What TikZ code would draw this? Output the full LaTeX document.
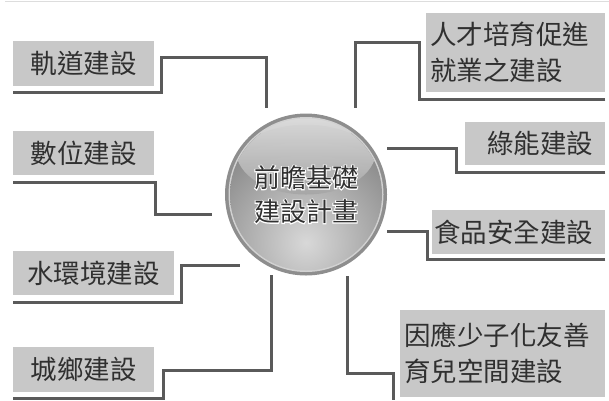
\documentclass[tikz,border=0pt]{standalone}
\usepackage{fontspec}
\setmainfont{Noto Sans CJK TC}
\usetikzlibrary{calc}

\definecolor{boxgray}{HTML}{C8C8C8}
\definecolor{linegray}{HTML}{5A5A5A}
\definecolor{inkgray}{HTML}{303030}
\definecolor{rimgray}{HTML}{8E8E8E}
\definecolor{ringlight}{HTML}{D2D2D2}
\definecolor{ballout}{HTML}{848484}
\definecolor{ballin}{HTML}{D8D8D8}
\definecolor{glosstop}{HTML}{E4E4E4}
\definecolor{glossbot}{HTML}{A6A6A6}
\definecolor{frameline}{HTML}{DDDDDD}

% dark lettering on a white emboldened underlay
\newcommand\glowtext[1]{%
  \makebox[0pt][l]{\textcolor{white}{\addfontfeatures{FakeBold=7}#1}}#1}

\begin{document}
\begin{tikzpicture}[x=1pt,y=-1pt,
  boxbase/.style={fill=boxgray, anchor=north west, inner sep=0pt, text=inkgray,
    font=\fontsize{26.5}{36}\selectfont},
  lbox/.style={boxbase, align=center},
  tbox/.style={boxbase, align=left, inner xsep=4pt},
  conn/.style={draw=linegray, line width=3pt}]
\useasboundingbox (0,0) rectangle (609,400);

% thin frame line along the top
\draw[frameline, line width=1pt] (5,1) -- (609,1);

% central glossy ball
\coordinate (hubc) at (306,194.5);
\fill[rimgray] (hubc) circle (81pt);
\fill[ringlight] (hubc) circle (77.5pt);
\begin{scope}
  \clip (hubc) circle (76pt);
  \shade[inner color=ballin, outer color=ballout] ($(hubc)+(0,48)$) circle (118pt);
  \shade[top color=glosstop, bottom color=glossbot, opacity=0.95]
    ($(hubc)+(0,-44)$) ellipse (70pt and 44pt);
\end{scope}
\node[circle, minimum size=162pt, inner sep=0pt, align=center, text=inkgray,
  font=\fontsize{26}{34}\selectfont] (hub) at (hubc)
  {\glowtext{前瞻基礎}\\\glowtext{建設計畫}};

% left-hand items
\node[lbox, minimum width=141pt, minimum height=45pt] (rail) at (13,41) {軌道建設};
\node[lbox, minimum width=141pt, minimum height=44pt] (digital) at (13,131) {數位建設};
\node[lbox, minimum width=161pt, minimum height=44pt] (water) at (13,251) {水環境建設};
\node[lbox, minimum width=141pt, minimum height=45pt] (urban) at (13,347) {城鄉建設};

% right-hand items
\node[tbox, text width=171pt, minimum height=79pt] (talent) at (426,13)
  {人才培育促進\\就業之建設};
\node[boxbase, minimum height=43pt] (green) at (465,122)
  {\makebox[140pt][r]{綠能建設\hspace{12pt}}};
\node[boxbase, minimum height=44pt] (food) at (432,210)
  {\makebox[173pt][r]{食品安全建設\hspace{12pt}}};
\node[tbox, text width=197pt, minimum height=87pt] (child) at (400,310)
  {因應少子化友善\\育兒空間建設};

% free ends near the ball
\coordinate (railend) at (266,108);
\coordinate (digitalend) at (212,214);
\coordinate (waterend) at (240,265);
\coordinate (urbanend) at (271,275);
\coordinate (talentend) at (355,108);
\coordinate (greenend) at (387,148);
\coordinate (foodend) at (387,231);
\coordinate (childend) at (347,276);

% stepped connectors
\draw[conn] ($(rail.south west)+(0,6)$) -| (161,57) -| (railend);
\draw[conn] ($(digital.south west)+(0,7)$) -| (155,214) -- (digitalend);
\draw[conn] ($(water.south west)+(0,7)$) -| (181,265) -- (waterend);
\draw[conn] ($(urban.south west)+(0,6)$) -| (163,370) -| (urbanend);
\draw[conn] ($(talent.south east)+(0,7)$) -| (419,42) -| (talentend);
\draw[conn] ($(green.south east)+(0,7)$) -| (456,148) -- (greenend);
\draw[conn] ($(food.south east)+(0,5)$) -| (427,231) -- (foodend);
\draw[conn] (childend) |- (393,373) -- ($(child.south west)+(-7,3)$);
\end{tikzpicture}
\end{document}
